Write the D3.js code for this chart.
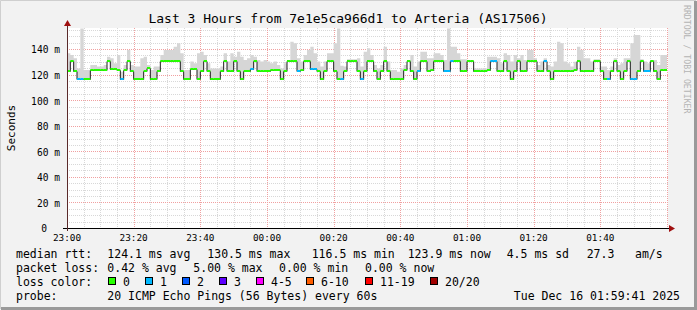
<!DOCTYPE html>
<html>
<head>
<meta charset="utf-8">
<script src="https://cdn.jsdelivr.net/npm/d3@7"></script>
<style>
body { margin: 0; background: #f2f2f2; }
text { font-family: "DejaVu Sans Mono", monospace; }
</style>
</head>
<body>
<script>
// median rtt per minute (ms), 23:00 -> 02:00
var median = [
  123.2,130.5,123.0,116.5,116.5,116.5,116.5,123.3,123.3,123.3,
  123.3,124.0,130.5,124.1,124.1,123.8,116.5,124.0,130.5,123.0,
  116.5,116.5,116.5,123.2,125.0,116.5,116.5,123.2,130.5,130.5,
  130.5,130.5,130.5,130.5,123.0,116.5,116.5,124.1,124.1,116.5,
  123.0,130.5,123.0,116.5,116.5,116.5,123.2,130.5,123.2,123.2,
  130.5,123.0,116.5,123.2,123.2,124.2,130.5,123.2,123.2,123.2,
  123.2,124.0,123.5,123.5,116.5,123.2,130.5,130.5,130.5,123.0,
  124.0,130.5,130.5,124.1,124.1,123.2,116.5,123.2,130.5,130.5,
  123.2,116.5,116.5,123.2,130.5,130.5,130.5,123.2,116.5,123.2,
  130.5,130.5,123.0,116.5,123.2,130.5,123.0,116.5,116.5,116.5,
  116.5,124.0,130.5,123.0,116.5,123.2,130.5,130.5,123.2,123.5,
  130.5,130.5,130.5,123.2,123.2,130.5,130.5,130.5,123.2,123.2,
  130.5,130.5,123.2,123.2,123.2,123.2,124.0,130.5,130.5,123.2,
  123.2,130.5,123.0,116.5,123.2,130.5,123.2,123.2,130.5,130.5,
  130.5,123.2,123.2,130.5,123.0,116.5,123.2,123.2,123.2,123.2,
  123.2,123.2,124.0,130.5,123.2,123.2,123.2,123.2,130.5,130.5,
  123.0,116.5,116.5,123.2,130.5,123.0,116.5,123.2,130.5,116.5,
  116.5,123.2,130.5,123.2,123.2,130.5,123.2,116.5,124.0,123.9
];

// highest ping per minute (ms) - top of the smoke
var pingMax = [
  136.7,135.4,132.8,124.9,156.2,123.6,123.6,127.6,127.6,126.3,
  126.3,127.6,134.1,132.8,128.9,135.4,122.3,127.6,139.3,127.6,
  126.3,126.3,132.8,134.1,127.6,123.6,126.3,126.3,135.4,139.3,
  139.3,139.3,141.9,144.5,136.7,123.6,123.6,130.2,128.9,136.7,
  138.0,135.4,128.9,124.9,124.9,124.9,126.3,136.7,130.2,136.7,
  134.1,138.0,134.1,131.5,132.8,135.4,134.1,131.5,130.2,131.5,
  130.2,128.9,130.2,127.6,124.9,128.9,131.5,145.8,144.5,132.8,
  130.2,135.4,139.3,141.9,136.7,130.2,126.3,130.2,136.7,136.7,
  144.5,156.2,127.0,126.3,132.0,132.0,132.0,132.8,126.3,138.0,
  140.6,135.4,127.6,124.9,127.6,141.9,130.2,123.6,123.6,122.3,
  124.9,127.6,131.5,135.4,126.3,130.2,138.0,138.0,132.8,132.8,
  136.7,136.7,135.4,131.5,156.2,141.9,141.9,136.7,132.0,132.0,
  131.5,131.0,124.9,124.9,124.9,124.9,134.1,134.1,134.1,132.8,
  128.9,136.7,135.4,130.2,135.4,132.8,135.4,131.5,139.3,139.3,
  132.8,127.6,130.2,132.8,127.6,126.3,130.2,145.8,144.5,130.2,
  128.9,126.3,130.0,141.9,139.3,132.8,132.8,130.2,132.0,132.0,
  126.3,126.3,123.6,126.3,132.8,127.6,128.9,132.8,132.8,144.5,
  151.0,151.0,132.0,130.2,128.9,131.5,131.5,127.6,135.4,135.4
];

// minutes where 1 of 20 pings was lost
var lossOnePoints = [3,4,16,55,69,73,74,82,88,105,113,114,115,127,128,143,162,169,170,173,174];

var yTicks = [0, 20, 40, 60, 80, 100, 120, 140];
var lossLabels = ["0", "1", "2", "3", "4-5", "6-10", "11-19", "20/20"];
var lossColors = ["#26ff00", "#00b8ff", "#0059ff", "#5e00ff", "#ff00ff", "#ff5e00", "#ff0000", "#a00000"];

var W = 697, H = 310;
var pLeft = 67, pRight = 667, pTop = 28, pBottom = 228;

var start = new Date(2025, 11, 15, 23, 0, 0);
var end = new Date(2025, 11, 16, 2, 0, 0);
var times = median.map(function(d, i) { return d3.timeMinute.offset(start, i); });

var x = d3.scaleTime().domain([start, end]).range([pLeft, pRight]);
var y = d3.scaleLinear().domain([0, 156.5]).range([pBottom, pTop]);

var svg = d3.select("body").append("svg")
  .attr("width", W)
  .attr("height", H);

// frame
svg.append("rect").attr("width", W).attr("height", H).attr("fill", "#f2f2f2");
svg.append("path").attr("d", "M0.5," + (H - 1) + "V0.5H" + (W - 1))
  .attr("stroke", "#cfcfcf").attr("stroke-width", 1).attr("fill", "none");
svg.append("path").attr("d", "M1," + (H - 1.5) + "H" + (W - 1.5) + "V1")
  .attr("stroke", "#9a9a9a").attr("stroke-width", 3).attr("fill", "none");

// canvas
svg.append("rect")
  .attr("x", pLeft).attr("y", pTop)
  .attr("width", pRight - pLeft + 1).attr("height", pBottom - pTop)
  .attr("fill", "#ffffff");

// minor grid
var grid = svg.append("g");
grid.selectAll(".vmin")
  .data(x.ticks(d3.timeMinute.every(5)))
  .enter().append("line")
  .attr("x1", function(d) { return Math.round(x(d)) + 0.5; })
  .attr("x2", function(d) { return Math.round(x(d)) + 0.5; })
  .attr("y1", pTop).attr("y2", pBottom)
  .attr("stroke", "#d8d8d8").attr("stroke-dasharray", "1,1");
grid.selectAll(".hmin")
  .data(d3.range(5, 160, 5))
  .enter().append("line")
  .attr("x1", pLeft).attr("x2", pRight + 1)
  .attr("y1", function(d) { return Math.round(y(d)) + 0.5; })
  .attr("y2", function(d) { return Math.round(y(d)) + 0.5; })
  .attr("stroke", "#d8d8d8").attr("stroke-dasharray", "1,1");

// major grid
grid.selectAll(".vmaj")
  .data(x.ticks(d3.timeMinute.every(20)))
  .enter().append("line")
  .attr("x1", function(d) { return Math.round(x(d)) + 0.5; })
  .attr("x2", function(d) { return Math.round(x(d)) + 0.5; })
  .attr("y1", pTop).attr("y2", pBottom)
  .attr("stroke", "#f0a0a0").attr("stroke-dasharray", "1,1");
grid.selectAll(".hmaj")
  .data(yTicks.slice(1))
  .enter().append("line")
  .attr("x1", pLeft).attr("x2", pRight + 1)
  .attr("y1", function(d) { return Math.round(y(d)) + 0.5; })
  .attr("y2", function(d) { return Math.round(y(d)) + 0.5; })
  .attr("stroke", "#f0a0a0").attr("stroke-dasharray", "1,1");

// smoke
var pts = times.map(function(t, i) { return { t: t, m: median[i], hi: pingMax[i], loss: 0 }; });
lossOnePoints.forEach(function(i) { pts[i].loss = 1; });
var stepPts = pts.concat([{ t: end, m: median[median.length - 1], hi: pingMax[pingMax.length - 1] }]);

var smoke = d3.area()
  .curve(d3.curveStepAfter)
  .x(function(d) { return x(d.t); })
  .y0(function(d) { return y(d.m); })
  .y1(function(d) { return y(d.hi); });
svg.append("path")
  .attr("d", smoke(stepPts))
  .attr("fill", "#d6d6d6");

// median line (dark) with loss-coloured bars
var medLine = d3.line()
  .curve(d3.curveStepAfter)
  .x(function(d) { return x(d.t); })
  .y(function(d) { return Math.round(y(d.m)) + 0.5; });
svg.append("path")
  .attr("d", medLine(stepPts))
  .attr("fill", "none")
  .attr("stroke", "#202020")
  .attr("stroke-width", 1);

svg.append("g").selectAll("rect")
  .data(pts)
  .enter().append("rect")
  .attr("x", function(d) { return x(d.t); })
  .attr("width", function(d) { return x(d3.timeMinute.offset(d.t, 1)) - x(d.t); })
  .attr("y", function(d) { return Math.round(y(d.m)) - 1; })
  .attr("height", 2)
  .attr("fill", function(d) { return lossColors[d.loss]; });

// axes
svg.append("line")
  .attr("x1", pLeft - 4).attr("x2", pRight + 3)
  .attr("y1", pBottom + 0.5).attr("y2", pBottom + 0.5)
  .attr("stroke", "#000000");
svg.append("path")
  .attr("d", "M" + (pRight + 2) + "," + (pBottom - 3) + "L" + (pRight + 8) + "," + (pBottom + 0.5) + "L" + (pRight + 2) + "," + (pBottom + 4) + "Z")
  .attr("fill", "#a01010");
svg.append("line")
  .attr("x1", pLeft + 0.5).attr("x2", pLeft + 0.5)
  .attr("y1", pBottom + 3).attr("y2", pTop - 3)
  .attr("stroke", "#5a2a2a");
svg.append("path")
  .attr("d", "M" + (pLeft - 3) + "," + (pTop - 2) + "L" + (pLeft + 0.5) + "," + (pTop - 8) + "L" + (pLeft + 4) + "," + (pTop - 2) + "Z")
  .attr("fill", "#a01010");

// x tick labels
svg.append("g").selectAll("text")
  .data(x.ticks(d3.timeMinute.every(20)).filter(function(d) { return d < end; }))
  .enter().append("text")
  .attr("x", function(d) { return x(d); })
  .attr("y", 241)
  .attr("text-anchor", "middle")
  .attr("font-size", "9.4px")
  .attr("fill", "#000")
  .text(d3.timeFormat("%H:%M"));

// y tick labels
svg.append("g").selectAll("text")
  .data(yTicks)
  .enter().append("text")
  .attr("x", function(d) { return d === 0 ? 47 : 60; })
  .attr("y", function(d) { return y(d) + 4.3; })
  .attr("text-anchor", "end")
  .attr("font-size", "9.6px")
  .attr("fill", "#000")
  .text(function(d) { return d === 0 ? "0" : d + " m"; });

// title and side texts
svg.append("text")
  .attr("x", 348).attr("y", 23)
  .attr("text-anchor", "middle")
  .attr("font-size", "13px")
  .text("Last 3 Hours from 7e1e5ca966d1 to Arteria (AS17506)");

svg.append("text")
  .attr("transform", "translate(15,128) rotate(-90)")
  .attr("text-anchor", "middle")
  .attr("font-size", "11px")
  .text("Seconds");

svg.append("text")
  .attr("transform", "translate(683.5,5) rotate(90)")
  .attr("font-size", "8.2px")
  .attr("fill", "#b4b4b4")
  .text("RRDTOOL / TOBI OETIKER");

// legend
var legendRows = [
  [[16, "median rtt:"], [107.3, "124.1 ms avg"], [207.3, "130.5 ms max"], [311.7, "116.5 ms min"],
   [407.7, "123.9 ms now"], [506.7, "4.5 ms sd"], [586.7, "27.3"], [635, "am/s"]],
  [[16, "packet loss:"], [107.3, "0.42 % avg"], [193.3, "5.00 % max"], [279, "0.00 % min"], [365, "0.00 % now"]],
  [[16, "loss color:"]],
  [[16, "probe:"], [107.3, "20 ICMP Echo Pings (56 Bytes) every 60s"]]
];
var rowY = [258.3, 272.3, 285.5, 300];
var legend = svg.append("g").attr("font-size", "11.5px");
legendRows.forEach(function(row, r) {
  row.forEach(function(item) {
    legend.append("text").attr("x", item[0]).attr("y", rowY[r]).text(item[1]);
  });
});
legend.append("text")
  .attr("x", 680).attr("y", rowY[3])
  .attr("text-anchor", "end")
  .text("Tue Dec 16 01:59:41 2025");

var boxX = [108.5, 145.5, 182.5, 219.5, 256.5, 306.5, 365.5, 430.5];
lossLabels.forEach(function(lbl, i) {
  legend.append("rect")
    .attr("x", boxX[i]).attr("y", 277.5)
    .attr("width", 7).attr("height", 7)
    .attr("fill", lossColors[i])
    .attr("stroke", "#000");
  legend.append("text")
    .attr("x", boxX[i] + 14.5).attr("y", rowY[2])
    .text(lbl);
});
</script>
</body>
</html>
